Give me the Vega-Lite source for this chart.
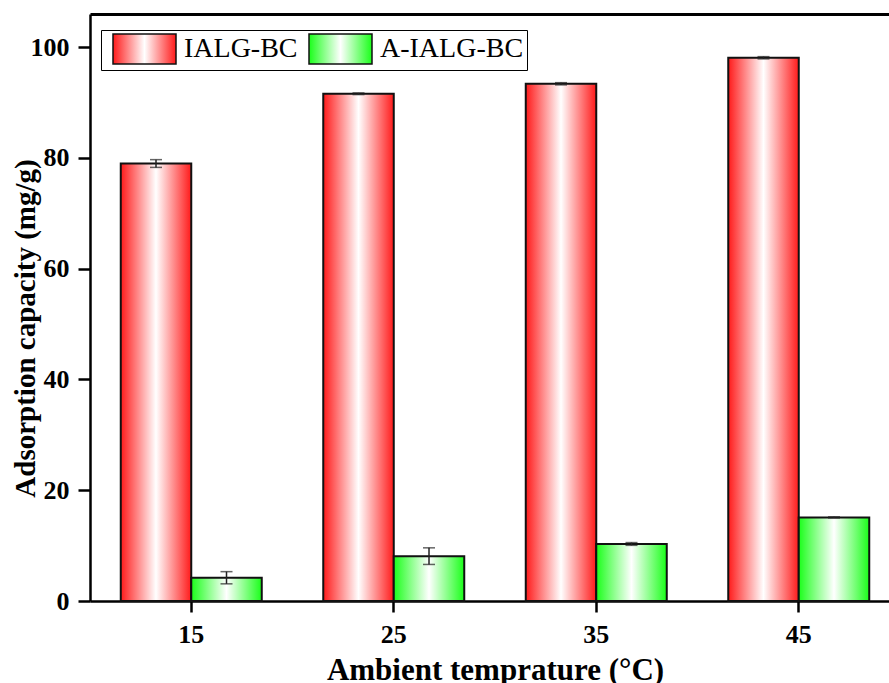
{
  "$schema": "https://vega.github.io/schema/vega-lite/v6.json",
  "autosize": {"type": "none"},
  "width": 799,
  "height": 587,
  "padding": {"left": 90, "right": 0, "top": 14, "bottom": 82},
  "background": "white",
  "data": {
    "values": [
      {"temp": 15, "series": "IALG-BC", "value": 79.0, "err": 0.7},
      {"temp": 25, "series": "IALG-BC", "value": 91.6, "err": 0.15},
      {"temp": 35, "series": "IALG-BC", "value": 93.4, "err": 0.2},
      {"temp": 45, "series": "IALG-BC", "value": 98.1, "err": 0.2},
      {"temp": 15, "series": "A-IALG-BC", "value": 4.2, "err": 1.1},
      {"temp": 25, "series": "A-IALG-BC", "value": 8.1, "err": 1.5},
      {"temp": 35, "series": "A-IALG-BC", "value": 10.3, "err": 0.25},
      {"temp": 45, "series": "A-IALG-BC", "value": 15.1, "err": 0.1}
    ]
  },
  "resolve": {"axis": {"x": "independent"}},
  "layer": [
    {
      "mark": {
        "type": "bar",
        "fill": {"expr": "(datum.series || datum.value) === 'IALG-BC' ? {gradient: 'linear', x1: 0, x2: 1, y1: 0, y2: 0, stops: [{offset: 0, color: '#ff1a1a'}, {offset: 0.5, color: '#ffffff'}, {offset: 1, color: '#ff1a1a'}]} : {gradient: 'linear', x1: 0, x2: 1, y1: 0, y2: 0, stops: [{offset: 0, color: '#1aff1a'}, {offset: 0.5, color: '#ffffff'}, {offset: 1, color: '#1aff1a'}]}"},
        "strokeWidth": 2,
        "fillOpacity": 1
      },
      "encoding": {
        "x": {
          "field": "temp", "type": "ordinal",
          "scale": {"type": "band", "paddingInner": 0.3037, "paddingOuter": 0.1247, "align": 0.609},
          "axis": {"orient": "bottom", "title": "Ambient temprature (°C)", "labelAngle": 0, "labelPadding": 9, "tickSize": 11, "titlePadding": 8, "titleX": 405, "titleFontSize": 31}
        },
        "xOffset": {"field": "series", "type": "nominal", "sort": ["IALG-BC", "A-IALG-BC"], "scale": {"paddingInner": 0, "paddingOuter": 0}},
        "y": {
          "field": "value", "type": "quantitative", "title": "Adsorption capacity (mg/g)",
          "scale": {"domain": [0, 106], "nice": false, "zero": true},
          "axis": {"values": [0, 20, 40, 60, 80, 100], "titleFontSize": 29, "titlePadding": -10, "titleY": 314, "labelPadding": 9, "tickSize": 12}
        },
        "stroke": {
          "field": "series", "type": "nominal", "sort": ["IALG-BC", "A-IALG-BC"],
          "scale": {"domain": ["IALG-BC", "A-IALG-BC"], "range": ["#111111", "#111111"]},
          "legend": {
            "title": null,
            "orient": "none",
            "legendX": 11,
            "legendY": 16,
            "direction": "horizontal",
            "padding": 3,
            "fillColor": "white",
            "strokeColor": "black",
            "symbolType": "M-1,-1H3.2V1H-1Z",
            "symbolSize": 900,
            "symbolOffset": 8,
            "symbolStrokeWidth": 1.5,
            "symbolOpacity": 1,
            "labelFont": "Liberation Serif",
            "labelFontSize": 28,
            "labelFontWeight": "normal",
            "labelColor": "black",
            "labelOffset": 40,
            "columnPadding": 2,
            "labelLimit": 300
          }
        }
      }
    },
    {
      "mark": {"type": "errorbar", "color": "#222222", "ticks": {"size": 12, "thickness": 1.5}, "rule": {"strokeWidth": 1.5}},
      "encoding": {
        "x": {"field": "temp", "type": "ordinal", "axis": {"orient": "top", "labels": false, "ticks": false, "title": null, "domainWidth": 3}},
        "xOffset": {"field": "series", "type": "nominal", "sort": ["IALG-BC", "A-IALG-BC"]},
        "y": {"field": "value", "type": "quantitative", "title": "Adsorption capacity (mg/g)"},
        "yError": {"field": "err"}
      }
    }
  ],
  "config": {
    "font": "Liberation Serif",
    "view": {"stroke": null},
    "axis": {
      "domainColor": "black", "domainWidth": 2.5,
      "tickColor": "black", "tickWidth": 2.5, "tickSize": 10,
      "labelFont": "Liberation Serif", "labelFontSize": 26, "labelFontWeight": "bold", "labelColor": "black",
      "titleFont": "Liberation Serif", "titleFontWeight": "bold", "titleColor": "black",
      "grid": false
    }
  }
}
